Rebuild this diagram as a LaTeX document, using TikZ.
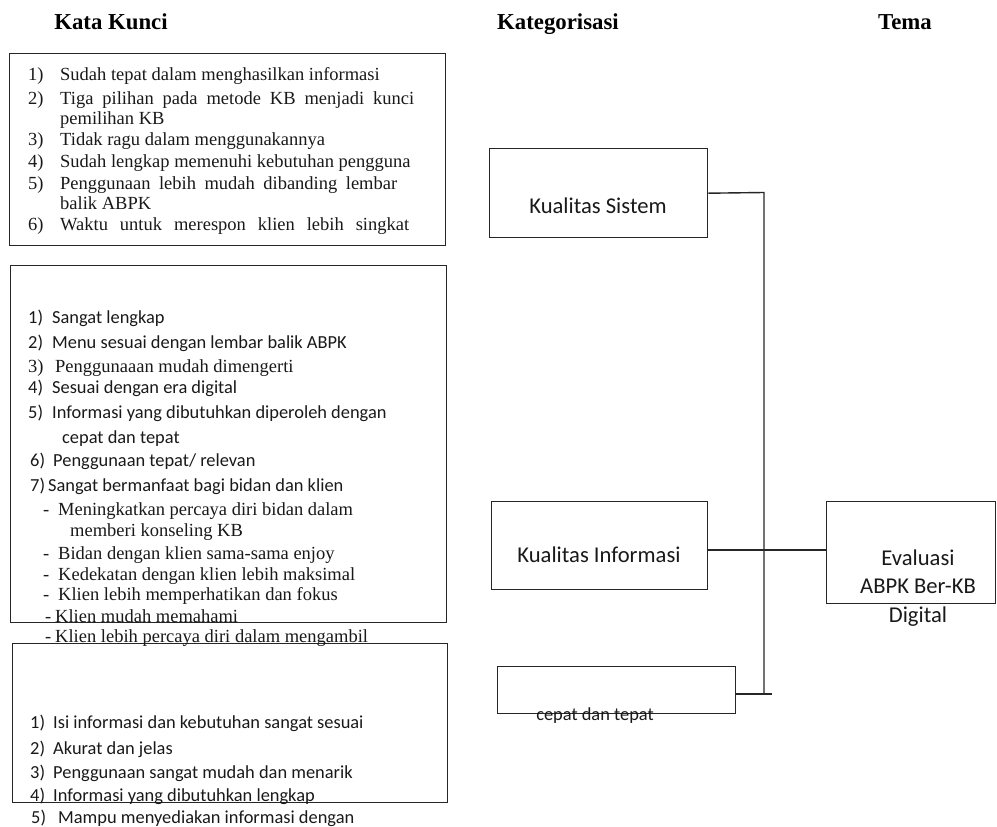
\documentclass[tikz,border=0pt]{standalone}
\usepackage{fontspec}
\setmainfont{Liberation Serif}
\newfontfamily\calib{Carlito}
\begin{document}
\begin{tikzpicture}[x=1pt,y=-1pt,
  box/.style={draw=black!85, line width=1.4pt, inner sep=0pt, anchor=north west},
  tm/.style={anchor=base west, inner sep=0pt, text=black!90, font=\fontsize{18.5}{22}\selectfont},
  cb/.style={anchor=base west, inner sep=0pt, text=black!90, font=\calib\fontsize{18.4}{22}\selectfont},
  hd/.style={anchor=base, inner sep=0pt, font=\bfseries\fontsize{22.8}{26}\selectfont},
  cat/.style={anchor=base, inner sep=0pt, text=black!90, font=\calib\fontsize{22.6}{28}\selectfont},
  link/.style={draw=black!85, line width=1.4pt}]
\useasboundingbox (0,0) rectangle (997,827);

% headers
\node[hd] (h1) at (111,30) {Kata Kunci};
\node[hd] (h2) at (558,29) {Kategorisasi};
\node[hd] (h3) at (905,29) {Tema};

% boxes
\node[box, minimum width=436pt, minimum height=192pt] (b1) at (9,53) {};
\node[box, minimum width=436pt, minimum height=357pt] (b2) at (10,265) {};
\node[box, minimum width=435pt, minimum height=159pt] (b3) at (12,643) {};
\node[box, minimum width=218pt, minimum height=89pt] (ks) at (489,148) {};
\node[box, minimum width=216pt, minimum height=88pt] (ki) at (491,501) {};
\node[box, minimum width=238pt, minimum height=47pt] (kc) at (497,666) {};
\node[box, minimum width=169pt, minimum height=102pt] (ev) at (826,501) {};

% box 1 text
\node[tm] (a1) at (28,80) {\makebox[32pt][l]{1)}Sudah tepat dalam menghasilkan informasi};
\node[tm] (a2) at (28,104) {\makebox[32pt][l]{2)}\makebox[354pt][s]{Tiga pilihan pada metode KB menjadi kunci}};
\node[tm] (a3) at (60,124) {pemilihan KB};
\node[tm] (a4) at (28,145) {\makebox[32pt][l]{3)}Tidak ragu dalam menggunakannya};
\node[tm] (a5) at (28,167) {\makebox[32pt][l]{4)}Sudah lengkap memenuhi kebutuhan pengguna};
\node[tm] (a6) at (28,189) {\makebox[32pt][l]{5)}\makebox[337pt][s]{Penggunaan lebih mudah dibanding lembar}};
\node[tm] (a7) at (60,209) {balik ABPK};
\node[tm] (a8) at (28,230) {\makebox[32pt][l]{6)}\makebox[349pt][s]{Waktu untuk merespon klien lebih singkat}};

% box 2 text
\node[cb] (c1) at (28,323) {\makebox[24pt][l]{1)}Sangat lengkap};
\node[cb] (c2) at (28,348) {\makebox[24pt][l]{2)}Menu sesuai dengan lembar balik ABPK};
\node[tm] (c3) at (28,372) {\makebox[27pt][l]{3)}Penggunaaan mudah dimengerti};
\node[cb] (c4) at (28,393) {\makebox[24pt][l]{4)}Sesuai dengan era digital};
\node[cb] (c5) at (28,418) {\makebox[24pt][l]{5)}Informasi yang dibutuhkan diperoleh dengan};
\node[cb] (c6) at (62,443) {cepat dan tepat};
\node[cb] (c7) at (30,466) {\makebox[23pt][l]{6)}Penggunaan tepat/ relevan};
\node[cb] (c8) at (30,491) {\makebox[18pt][l]{7)}Sangat bermanfaat bagi bidan dan klien};
\node[tm] (c9) at (43,515) {\makebox[15pt][l]{-}Meningkatkan percaya diri bidan dalam};
\node[tm] (c10) at (70,536) {memberi konseling KB};
\node[tm] (c11) at (43,559) {\makebox[15pt][l]{-}Bidan dengan klien sama-sama enjoy};
\node[tm] (c12) at (43,580) {\makebox[15pt][l]{-}Kedekatan dengan klien lebih maksimal};
\node[tm] (c13) at (43,600) {\makebox[15pt][l]{-}Klien lebih memperhatikan dan fokus};
\node[tm] (c14) at (45,622) {\makebox[10pt][l]{-}Klien mudah memahami};
\node[tm] (c15) at (45,642) {\makebox[10pt][l]{-}Klien lebih percaya diri dalam mengambil};

% box 3 text
\node[cb] (d1) at (30,728) {\makebox[23pt][l]{1)}Isi informasi dan kebutuhan sangat sesuai};
\node[cb] (d2) at (30,754) {\makebox[23pt][l]{2)}Akurat dan jelas};
\node[cb] (d3) at (30,778) {\makebox[23pt][l]{3)}Penggunaan sangat mudah dan menarik};
\node[cb] (d4) at (30,801) {\makebox[23pt][l]{4)}Informasi yang dibutuhkan lengkap};
\node[cb] (d5) at (31,823) {\makebox[27pt][l]{5)}Mampu menyediakan informasi dengan};

% category texts
\node[cat] (t1) at (598,213) {Kualitas Sistem};
\node[cat] (t2) at (599,562) {Kualitas Informasi};
\node[cb, anchor=base] (t3) at (595,720) {cepat dan tepat};
\node[cat] (t4) at (918,565) {Evaluasi};
\node[cat] (t5) at (918,593) {ABPK Ber-KB};
\node[cat] (t6) at (918,622) {Digital};

% connectors
\coordinate (vtop) at (764,192.5);
\coordinate (j) at (764,550);
\coordinate (vbot) at (764,694);
\coordinate (bend) at (772,694);
\draw[link] (ks.east) -- (vtop) -- (vbot);
\draw[link] (ki.east |- j) -- (ev.west |- j);
\draw[link] (kc.east |- vbot) -- (bend);
\end{tikzpicture}
\end{document}
